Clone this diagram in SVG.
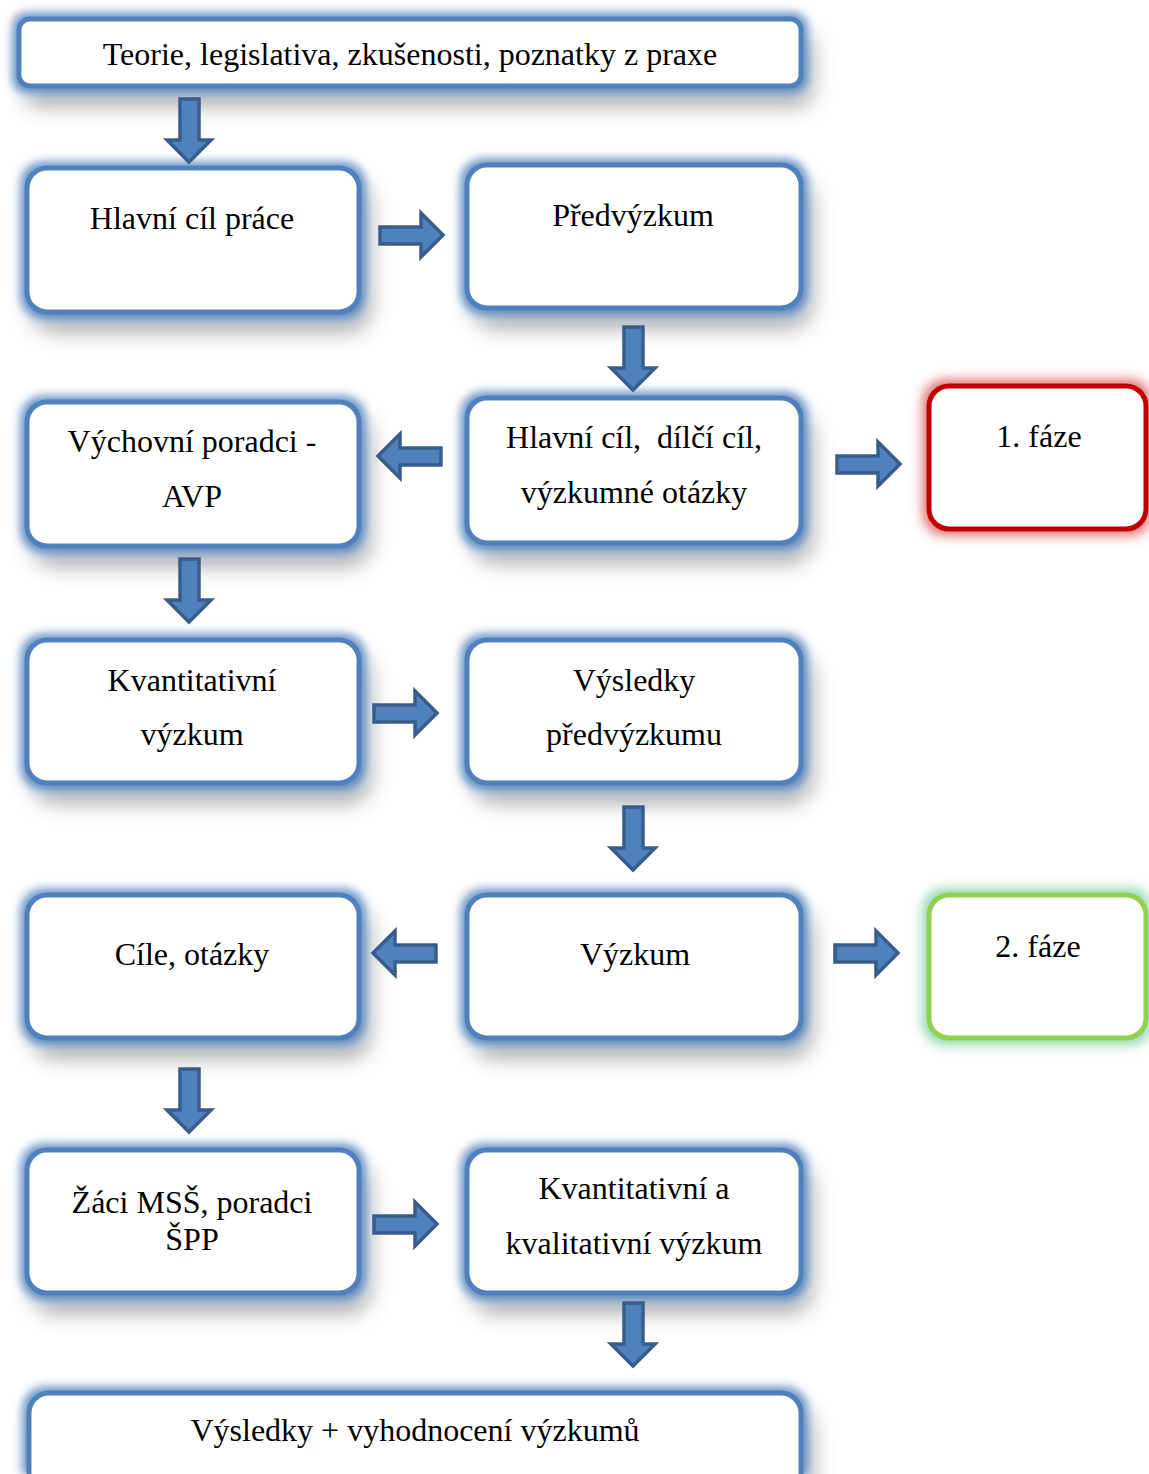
<svg xmlns="http://www.w3.org/2000/svg" width="1149" height="1474" viewBox="0 0 1149 1474">
<defs>
<filter id="fb" filterUnits="userSpaceOnUse" x="0" y="0" width="1149" height="1474">
<feGaussianBlur in="SourceAlpha" stdDeviation="11" result="b"/>
<feOffset in="b" dx="8" dy="16" result="o"/>
<feFlood flood-color="#000" flood-opacity="0.38"/>
<feComposite in2="o" operator="in" result="sh"/>
<feMorphology in="SourceAlpha" operator="dilate" radius="4" result="d"/>
<feGaussianBlur in="d" stdDeviation="5" result="g"/>
<feFlood flood-color="#4f81bd" flood-opacity="0.85"/>
<feComposite in2="g" operator="in" result="gl"/>
<feMerge><feMergeNode in="sh"/><feMergeNode in="gl"/><feMergeNode in="SourceGraphic"/></feMerge>
</filter>
<filter id="fr" filterUnits="userSpaceOnUse" x="0" y="0" width="1149" height="1474">
<feMorphology in="SourceAlpha" operator="dilate" radius="4" result="d"/>
<feGaussianBlur in="d" stdDeviation="6" result="g"/>
<feFlood flood-color="#d84040" flood-opacity="0.75"/>
<feComposite in2="g" operator="in" result="gl"/>
<feMerge><feMergeNode in="gl"/><feMergeNode in="SourceGraphic"/></feMerge>
</filter>
<filter id="fg" filterUnits="userSpaceOnUse" x="0" y="0" width="1149" height="1474">
<feMorphology in="SourceAlpha" operator="dilate" radius="4" result="d"/>
<feGaussianBlur in="d" stdDeviation="6" result="g"/>
<feFlood flood-color="#50c080" flood-opacity="0.65"/>
<feComposite in2="g" operator="in" result="gl"/>
<feMerge><feMergeNode in="gl"/><feMergeNode in="SourceGraphic"/></feMerge>
</filter>
</defs>
<style>
.b{fill:#fff;stroke:#4f81bd;stroke-width:5;filter:url(#fb)}
.r{fill:#fff;stroke:#c00000;stroke-width:5;filter:url(#fr)}
.g{fill:#fff;stroke:#92d050;stroke-width:5;filter:url(#fg)}
text{font-family:"Liberation Serif","Times New Roman",serif;font-size:32px;fill:#000;text-anchor:middle}
.a{fill:#4f81bd;stroke:#385d8a;stroke-width:3.5;stroke-linejoin:miter}
</style>
<rect width="1149" height="1474" fill="#fff"/>

<g id="n-top"><rect class="b" x="19" y="19" width="782" height="67" rx="11"/><text x="410" y="65">Teorie, legislativa, zkušenosti, poznatky z praxe</text></g>
<g id="n-hlavni"><rect class="b" x="27" y="168" width="332" height="144" rx="20"/><text x="192" y="229">Hlavní cíl práce</text></g>
<g id="n-predvyzkum"><rect class="b" x="467" y="165" width="334" height="143" rx="20"/><text x="633" y="226">Předvýzkum</text></g>
<g id="n-vychovni"><rect class="b" x="27" y="402" width="332" height="144" rx="20"/><text x="192" y="452">Výchovní poradci -</text><text x="192" y="507">AVP</text></g>
<g id="n-cile1"><rect class="b" x="467" y="398" width="334" height="145" rx="20"/><text x="634" y="448" xml:space="preserve">Hlavní cíl,  dílčí cíl,</text><text x="634" y="503">výzkumné otázky</text></g>
<g id="n-faze1"><rect class="r" x="929" y="386" width="217" height="143" rx="20"/><text x="1039" y="447">1. fáze</text></g>
<g id="n-kvant"><rect class="b" x="27" y="640" width="332" height="143" rx="20"/><text x="192" y="691">Kvantitativní</text><text x="192" y="745">výzkum</text></g>
<g id="n-vysledkyp"><rect class="b" x="467" y="640" width="334" height="143" rx="20"/><text x="634" y="691">Výsledky</text><text x="634" y="745">předvýzkumu</text></g>
<g id="n-cile2"><rect class="b" x="27" y="895" width="332" height="143" rx="20"/><text x="192" y="965">Cíle, otázky</text></g>
<g id="n-vyzkum"><rect class="b" x="467" y="895" width="334" height="143" rx="20"/><text x="635" y="965">Výzkum</text></g>
<g id="n-faze2"><rect class="g" x="929" y="895" width="217" height="143" rx="20"/><text x="1038" y="957">2. fáze</text></g>
<g id="n-zaci"><rect class="b" x="27" y="1150" width="332" height="143" rx="20"/><text x="192" y="1213">Žáci MSŠ, poradci</text><text x="192" y="1250">ŠPP</text></g>
<g id="n-kvantkval"><rect class="b" x="467" y="1150" width="334" height="143" rx="20"/><text x="634" y="1199">Kvantitativní a</text><text x="634" y="1254">kvalitativní výzkum</text></g>
<g id="n-vysledky"><rect class="b" x="29" y="1393" width="772" height="110" rx="20"/><text x="415" y="1441">Výsledky + vyhodnocení výzkumů</text></g>

<g id="connectors">
<path class="a" d="M180,99 h19 v41 h12 l-22,22 l-22,-22 h13 z"/>
<path class="a" d="M624,327 h19 v41 h12 l-22,22 l-22,-22 h13 z"/>
<path class="a" d="M180,559 h19 v41 h12 l-22,22 l-22,-22 h13 z"/>
<path class="a" d="M624,807 h19 v41 h12 l-22,22 l-22,-22 h13 z"/>
<path class="a" d="M180,1069 h19 v41 h12 l-22,22 l-22,-22 h13 z"/>
<path class="a" d="M624,1303 h19 v41 h12 l-22,22 l-22,-22 h13 z"/>
<path class="a" d="M380,227 v17 h41 v13 l22,-22 l-22,-22 v14 z"/>
<path class="a" d="M837,456 v17 h41 v13 l22,-22 l-22,-22 v14 z"/>
<path class="a" d="M374,705 v17 h41 v13 l22,-22 l-22,-22 v14 z"/>
<path class="a" d="M835,945 v17 h41 v13 l22,-22 l-22,-22 v14 z"/>
<path class="a" d="M374,1216 v17 h41 v13 l22,-22 l-22,-22 v14 z"/>
<path class="a" d="M441,448 v17 h-41 v13 l-22,-22 l22,-22 v14 z"/>
<path class="a" d="M436,945 v17 h-41 v13 l-22,-22 l22,-22 v14 z"/>
</g>
</svg>
